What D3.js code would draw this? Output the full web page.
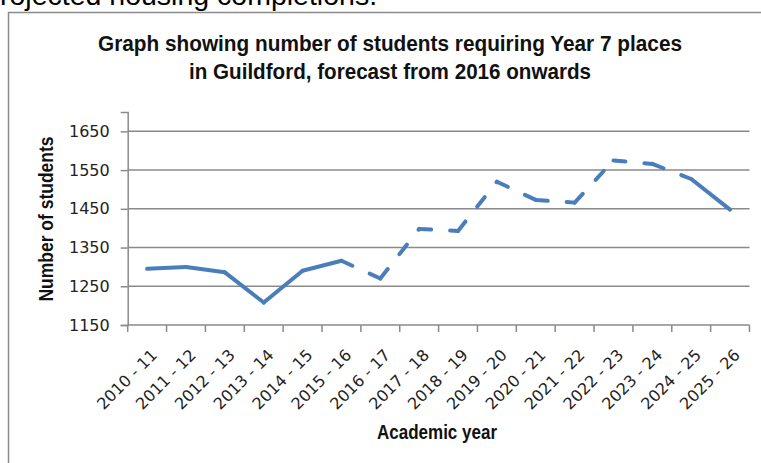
<!DOCTYPE html>
<html>
<head>
  <meta charset="utf-8">
  <script src="https://d3js.org/d3.v7.min.js"></script>
  <style>
    body { margin: 0; background: #fff; }
    .narrow { font-family: 'Liberation Sans', Arial, sans-serif; font-weight: bold; fill: #111; }
    .tick-label { font-family: 'DejaVu Sans', sans-serif; font-size: 16px; fill: #222; }
  </style>
</head>
<body>
<div id="chart"></div>
<script>
  // data
  const years = ["2010 - 11", "2011 - 12", "2012 - 13", "2013 - 14", "2014 - 15", "2015 - 16",
    "2016 - 17", "2017 - 18", "2018 - 19", "2019 - 20", "2020 - 21", "2021 - 22",
    "2022 - 23", "2023 - 24", "2024 - 25", "2025 - 26"];
  const students = [1295, 1300, 1286, 1208, 1290, 1316, 1270, 1398, 1393, 1520,
    1473, 1466, 1575, 1566, 1527, 1448];
  const yTicks = [1150, 1250, 1350, 1450, 1550, 1650];
  const titleLines = ["Graph showing number of students requiring Year 7 places",
    "in Guildford, forecast from 2016 onwards"];

  const width = 761, height = 463;
  const plotLeft = 127.7, plotRight = 749.5, plotTop = 112, plotBottom = 325;

  const svg = d3.select('#chart').append('svg')
    .attr('width', width)
    .attr('height', height);

  // page text cut off above the chart
  svg.append('text')
    .attr('x', -19)
    .attr('y', 5)
    .style('font-family', "'Liberation Sans', Arial, sans-serif")
    .style('font-size', '28.5px')
    .attr('fill', '#000')
    .text('Projected housing completions.');

  // chart frame
  svg.append('rect')
    .attr('x', 8.5)
    .attr('y', 12.5)
    .attr('width', 770)
    .attr('height', 480)
    .attr('fill', 'none')
    .attr('stroke', '#8a8a8a')
    .attr('stroke-width', 1.5);

  let x = d3.scaleBand()
    .domain(years)
    .range([plotLeft, plotRight])
    .padding(0);

  let y = d3.scaleLinear()
    .domain([1150, 1700])
    .range([plotBottom, plotTop]);

  const cx = (d) => x(d) + x.bandwidth() / 2;

  // gridlines
  svg.append('g')
    .selectAll('line')
    .data(yTicks.slice(1))
    .enter()
    .append('line')
    .attr('x1', plotLeft)
    .attr('x2', plotRight)
    .attr('y1', (d) => y(d))
    .attr('y2', (d) => y(d))
    .attr('stroke', '#8a8a8a')
    .attr('stroke-width', 1.5);

  // y axis
  let yAxis = svg.append('g')
    .attr('transform', `translate(${plotLeft},0)`)
    .call(d3.axisLeft(y).tickValues(yTicks).tickFormat(d3.format('d')).tickSize(7).tickPadding(11));
  yAxis.select('.domain')
    .attr('stroke', '#8a8a8a')
    .attr('stroke-width', 1.5);
  yAxis.selectAll('.tick line')
    .attr('stroke', '#8a8a8a')
    .attr('stroke-width', 1.5);
  yAxis.selectAll('.tick text')
    .attr('class', 'tick-label')
    .attr('fill', '#222');

  // x axis: ticks sit between categories
  const bounds = years.map((d) => x(d)).concat([x.range()[1]]);
  let xAxis = svg.append('g');
  xAxis.append('line')
    .attr('x1', plotLeft)
    .attr('x2', plotRight)
    .attr('y1', plotBottom)
    .attr('y2', plotBottom)
    .attr('stroke', '#8a8a8a')
    .attr('stroke-width', 1.5);
  xAxis.selectAll('.xtick')
    .data(bounds)
    .enter()
    .append('line')
    .attr('class', 'xtick')
    .attr('x1', (d) => d)
    .attr('x2', (d) => d)
    .attr('y1', plotBottom)
    .attr('y2', plotBottom + 7)
    .attr('stroke', '#8a8a8a')
    .attr('stroke-width', 1.5);
  xAxis.selectAll('text')
    .data(years)
    .enter()
    .append('text')
    .attr('class', 'tick-label')
    .attr('text-anchor', 'end')
    .attr('transform', (d) => `translate(${cx(d) + 11},${plotBottom + 31}) rotate(-45)`)
    .text((d) => d);

  // series, one path per segment so each dash pattern restarts like Excel
  const dashed = d3.range(5, 14);
  const line = d3.line()
    .x((d) => cx(d.year))
    .y((d) => y(d.value));
  const points = years.map((d, i) => ({ year: d, value: students[i] }));
  const segments = d3.range(points.length - 1).map((i) => points.slice(i, i + 2));

  svg.append('g')
    .selectAll('path')
    .data(segments)
    .enter()
    .append('path')
    .attr('d', line)
    .attr('fill', 'none')
    .attr('stroke', '#4a7ebb')
    .attr('stroke-width', 4)
    .attr('stroke-linecap', 'round')
    .attr('stroke-linejoin', 'round')
    .attr('stroke-dasharray', (d, i) => dashed.includes(i) ? '12,19' : null);

  // titles (condensed to match the narrow face of the original)
  const titleWidths = [584, 402];
  svg.append('g')
    .selectAll('text')
    .data(titleLines)
    .enter()
    .append('text')
    .attr('class', 'narrow')
    .attr('text-anchor', 'middle')
    .style('font-size', '22px')
    .attr('x', 390)
    .attr('y', (d, i) => 51 + i * 28)
    .attr('textLength', (d, i) => titleWidths[i])
    .attr('lengthAdjust', 'spacingAndGlyphs')
    .text((d) => d);

  svg.append('text')
    .attr('class', 'narrow')
    .attr('text-anchor', 'middle')
    .attr('x', 437)
    .attr('y', 439)
    .style('font-size', '20px')
    .attr('textLength', 120)
    .attr('lengthAdjust', 'spacingAndGlyphs')
    .text('Academic year');

  svg.append('text')
    .attr('class', 'narrow')
    .attr('text-anchor', 'middle')
    .attr('transform', 'translate(53,219) rotate(-90)')
    .style('font-size', '20px')
    .attr('textLength', 165)
    .attr('lengthAdjust', 'spacingAndGlyphs')
    .text('Number of students');
</script>
</body>
</html>
